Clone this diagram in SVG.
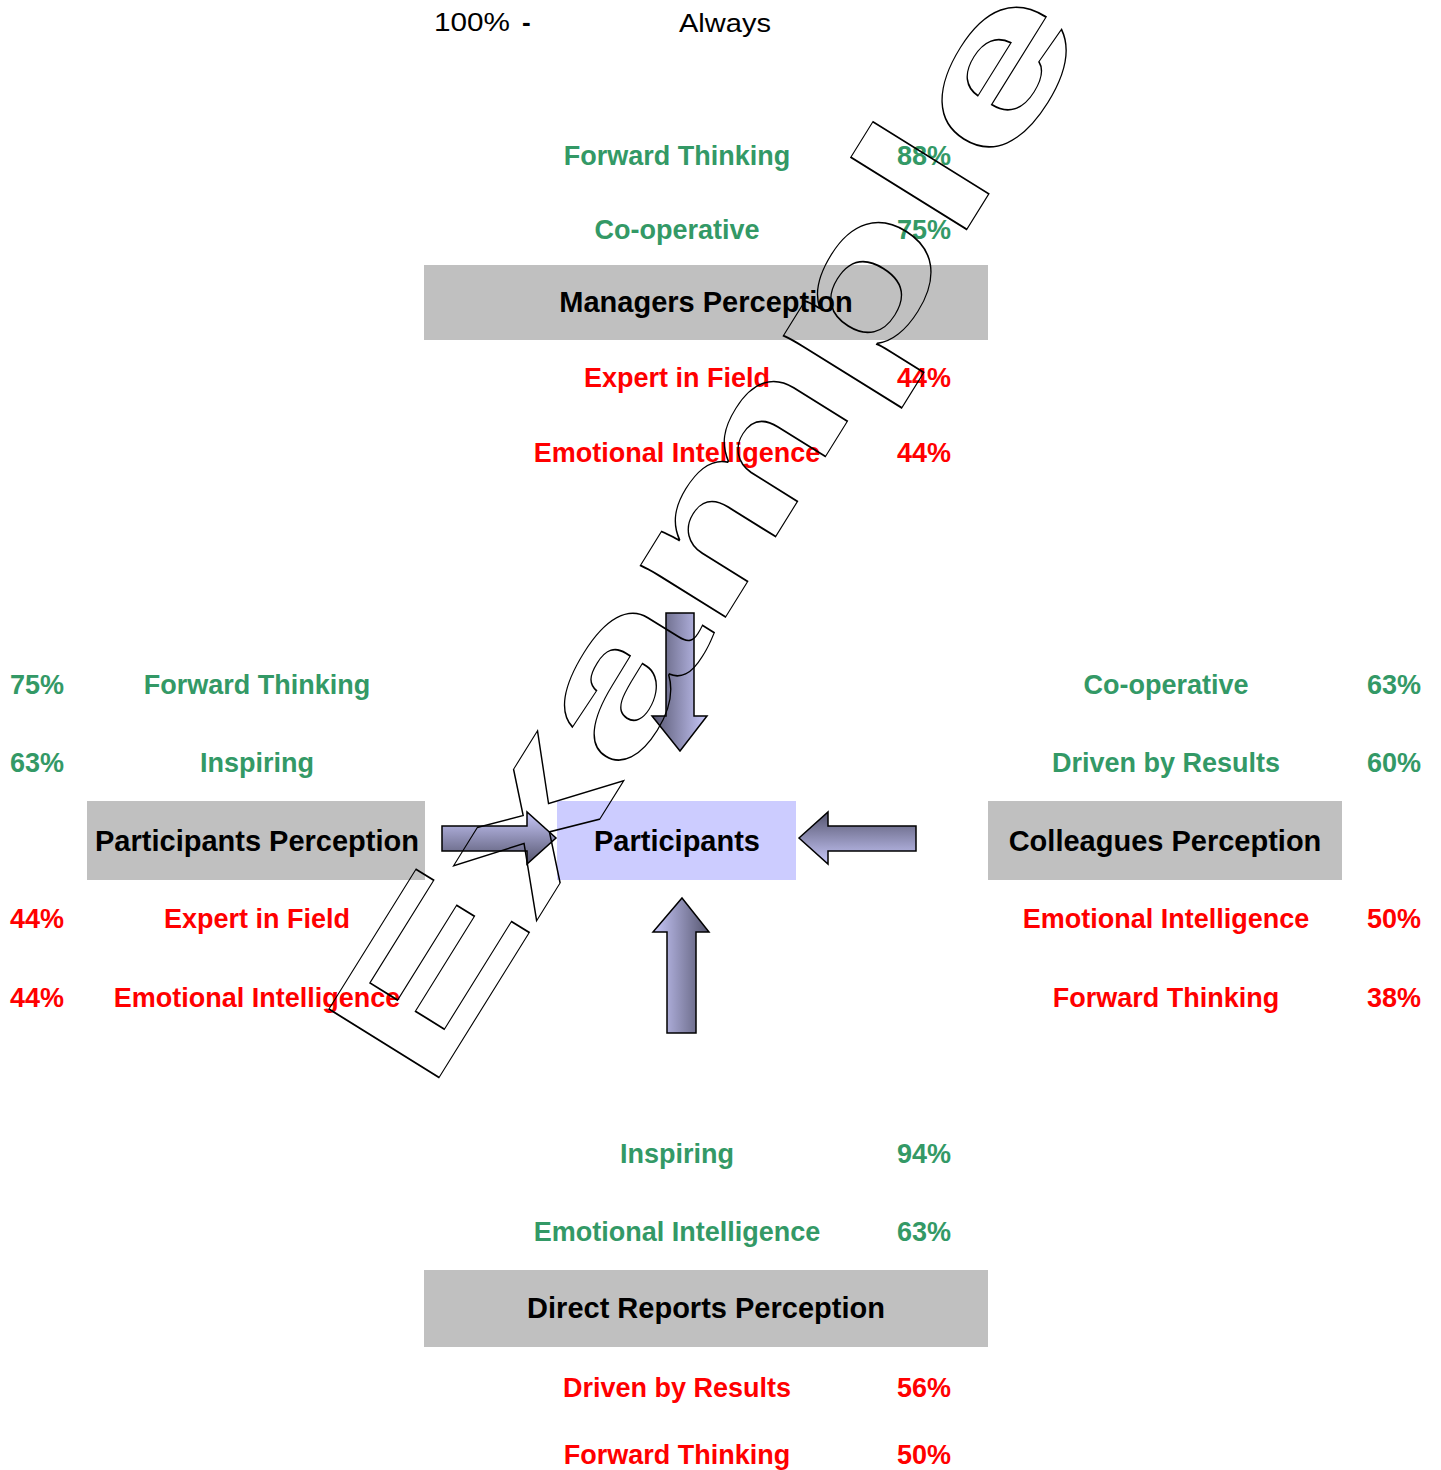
<svg xmlns="http://www.w3.org/2000/svg" width="1441" height="1470" viewBox="0 0 1441 1470">
<defs>
<style>
text{font-family:"Liberation Sans",Arial,sans-serif}
.g{fill:#339966;font-weight:bold;font-size:27px}
.r{fill:#ff0000;font-weight:bold;font-size:27px}
.h{fill:#000;font-weight:bold;font-size:29px}
.c{text-anchor:middle}
.e{text-anchor:end}
.box{fill:#c0c0c0}
.arrow{stroke:#000;stroke-width:1.5;stroke-linejoin:miter}
.wm{fill:none;stroke:#000;stroke-width:1.5;font-size:188.5px;font-weight:bold}
</style>
<linearGradient id="gDown" x1="0" y1="0" x2="1" y2="0"><stop offset="0" stop-color="#55556e"/><stop offset="1" stop-color="#c8c8fa"/></linearGradient>
<linearGradient id="gUp" x1="0" y1="0" x2="1" y2="0"><stop offset="0" stop-color="#c8c8fa"/><stop offset="1" stop-color="#55556e"/></linearGradient>
<linearGradient id="gRight" x1="0" y1="0" x2="0" y2="1"><stop offset="0" stop-color="#c8c8fa"/><stop offset="1" stop-color="#55556e"/></linearGradient>
<linearGradient id="gLeft" x1="0" y1="0" x2="0" y2="1"><stop offset="0" stop-color="#55556e"/><stop offset="1" stop-color="#c8c8fa"/></linearGradient>
</defs>
<rect width="1441" height="1470" fill="#fff"/>

<g id="scale">
<text x="434" y="31" font-size="26" textLength="76" lengthAdjust="spacingAndGlyphs">100%</text>
<text x="522" y="31" font-size="26" font-weight="bold">-</text>
<text x="679" y="32" font-size="26" textLength="92" lengthAdjust="spacingAndGlyphs">Always</text>
</g>

<g id="managers">
<text class="g c" x="677" y="165">Forward Thinking</text>
<text class="g e" x="951" y="165">88%</text>
<text class="g c" x="677" y="239">Co-operative</text>
<text class="g e" x="951" y="239">75%</text>
<rect class="box" x="424" y="265" width="564" height="75"/>
<text class="h c" x="706" y="312">Managers Perception</text>
<text class="r c" x="677" y="387">Expert in Field</text>
<text class="r e" x="951" y="387">44%</text>
<text class="r c" x="677" y="462">Emotional Intelligence</text>
<text class="r e" x="951" y="462">44%</text>
</g>

<g id="participants-perception">
<text class="g" x="10" y="694">75%</text>
<text class="g c" x="257" y="694">Forward Thinking</text>
<text class="g" x="10" y="772">63%</text>
<text class="g c" x="257" y="772">Inspiring</text>
<rect class="box" x="87" y="801" width="338" height="79"/>
<text class="h c" x="257" y="851">Participants Perception</text>
<text class="r" x="10" y="928">44%</text>
<text class="r c" x="257" y="928">Expert in Field</text>
<text class="r" x="10" y="1007">44%</text>
<text class="r c" x="257" y="1007">Emotional Intelligence</text>
</g>

<g id="colleagues">
<text class="g c" x="1166" y="694">Co-operative</text>
<text class="g e" x="1421" y="694">63%</text>
<text class="g c" x="1166" y="772">Driven by Results</text>
<text class="g e" x="1421" y="772">60%</text>
<rect class="box" x="988" y="801" width="354" height="79"/>
<text class="h c" x="1165" y="851">Colleagues Perception</text>
<text class="r c" x="1166" y="928">Emotional Intelligence</text>
<text class="r e" x="1421" y="928">50%</text>
<text class="r c" x="1166" y="1007">Forward Thinking</text>
<text class="r e" x="1421" y="1007">38%</text>
</g>

<g id="direct-reports">
<text class="g c" x="677" y="1163">Inspiring</text>
<text class="g e" x="951" y="1163">94%</text>
<text class="g c" x="677" y="1241">Emotional Intelligence</text>
<text class="g e" x="951" y="1241">63%</text>
<rect class="box" x="424" y="1270" width="564" height="77"/>
<text class="h c" x="706" y="1318">Direct Reports Perception</text>
<text class="r c" x="677" y="1397">Driven by Results</text>
<text class="r e" x="951" y="1397">56%</text>
<text class="r c" x="677" y="1464">Forward Thinking</text>
<text class="r e" x="951" y="1464">50%</text>
</g>

<g id="participants">
<rect x="557" y="801" width="239" height="79" fill="#ccccff"/>
<text class="h c" x="677" y="851">Participants</text>
</g>

<g id="connectors">
<polygon class="arrow" fill="url(#gDown)" points="666,613 694,613 694,716 707,716 680,751 652,716 666,716"/>
<polygon class="arrow" fill="url(#gUp)" points="682,898 709,932 696,932 696,1033 667,1033 667,932 653,932"/>
<polygon class="arrow" fill="url(#gRight)" points="442,826 527,826 527,812 556,838 527,864 527,851 442,851"/>
<polygon class="arrow" fill="url(#gLeft)" points="799,838 828,812 828,826 916,826 916,851 828,851 828,864"/>
</g>

<g id="watermark">
<text class="wm" vector-effect="non-scaling-stroke" transform="matrix(0.853 -1.371 0.849 0.528 428.3 1094.8)" x="0" y="0">Example</text>
</g>
</svg>
